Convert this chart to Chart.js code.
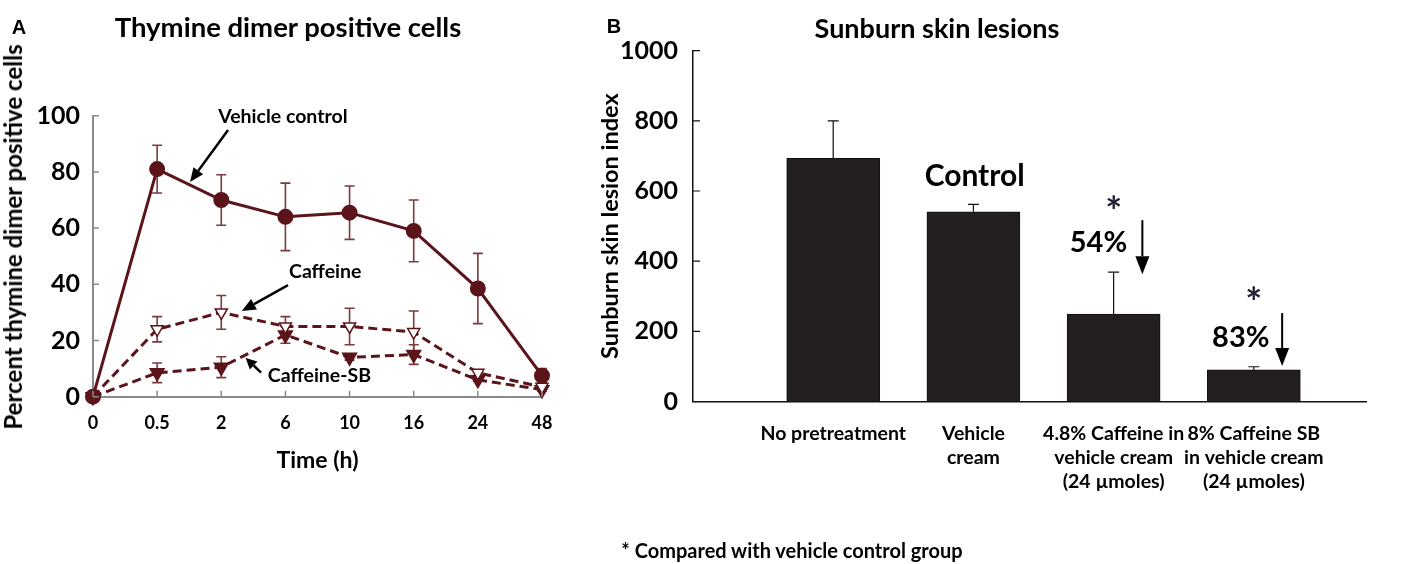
<!DOCTYPE html>
<html><head><meta charset="utf-8">
<script src="https://cdn.jsdelivr.net/npm/chart.js@4.4.0/dist/chart.umd.min.js"></script>
<style>
html,body{margin:0;padding:0;background:#fff;}
#wrap{position:relative;width:1405px;height:564px;overflow:hidden;font-family:Lato,"Open Sans",sans-serif;font-weight:bold;color:#000;}
canvas{position:absolute;top:0;}
.t{position:absolute;transform:translate(-50%,-50%);white-space:nowrap;line-height:1;}
.rot{transform:translate(-50%,-50%) rotate(-90deg);}
</style></head><body>
<div id="wrap">
<canvas id="cA" width="590" height="564" style="left:0;width:590px;height:564px"></canvas>
<canvas id="cB" width="815" height="564" style="left:590px;width:815px;height:564px"></canvas>
<div class="t" style="left:19px;top:27px;font:bold 20px 'Liberation Sans',Arial,sans-serif">A</div>
<div class="t" style="left:288px;top:27px;font-size:27.5px">Thymine dimer positive cells</div>
<div class="t rot" style="left:13px;top:237px;font-size:24px">Percent thymine dimer positive cells</div>
<div class="t" style="left:614px;top:26px;font:bold 20px 'Liberation Sans',Arial,sans-serif">B</div>
<div class="t" style="left:937px;top:27px;font-size:27px">Sunburn skin lesions</div>
<div class="t" style="left:792px;top:550px;font-size:20px">* Compared with vehicle control group</div>
</div>
<script>
// ---------- Panel A data ----------
const timeLabels = ['0', '0.5', '2', '6', '10', '16', '24', '48'];
const vehicleValues = [0, 81, 70, 64, 65.5, 59, 38.5, 7.5];
const vehicleErrors = [0, 8.5, 9, 12, 9.5, 11, 12.5, 2.5];
const caffeineValues = [0, 24, 30, 25, 25, 23, 8.5, 3.5];
const caffeineErrors = [0, 4.5, 6, 3.5, 6.5, 7.5, 1, 0.5];
const caffeineSBValues = [0, 8.5, 10.5, 22, 14, 15, 6, 2.5];
const caffeineSBErrors = [0, 3.5, 3.7, 3, 1, 3.5, 0.5, 0.5];
const yTicksA = [0, 20, 40, 60, 80, 100];

// ---------- Panel B data ----------
const groupLabels = [
  ['No pretreatment'],
  ['Vehicle', 'cream'],
  ['4.8% Caffeine in', 'vehicle cream', '(24 µmoles)'],
  ['8% Caffeine SB', 'in vehicle cream', '(24 µmoles)']
];
const lesionValues = [693, 541, 249, 90];
const lesionErrors = [107, 21, 120, 9];
const yTicksB = [0, 200, 400, 600, 800, 1000];

const FONT = 'Lato, "Open Sans", sans-serif';
const MAROON = '#5c141b';
const ERR = '#7a3a40';

// error bars drawn from dataset.errors through the y scale
const errorBars = {
  id: 'errorBars',
  draw(chart, opts) {
    const ctx = chart.ctx, ys = chart.scales.y;
    chart.data.datasets.forEach((ds, di) => {
      if (!ds.errors) return;
      const meta = chart.getDatasetMeta(di);
      ctx.save();
      ctx.strokeStyle = opts.color; ctx.lineWidth = opts.width;
      meta.data.forEach((el, i) => {
        const e = ds.errors[i];
        if (!e) return;
        const raw = ds.data[i];
        const v = (typeof raw === 'object') ? raw.y : raw;
        const x = el.x;
        const yt = ys.getPixelForValue(v + e);
        const yb = opts.upOnly ? ys.getPixelForValue(v) : ys.getPixelForValue(v - e);
        const c = opts.cap / 2;
        ctx.beginPath();
        ctx.moveTo(x, yt); ctx.lineTo(x, yb);
        ctx.moveTo(x - c, yt); ctx.lineTo(x + c, yt);
        if (!opts.upOnly) { ctx.moveTo(x - c, yb); ctx.lineTo(x + c, yb); }
        ctx.stroke();
      });
      ctx.restore();
    });
  },
  beforeDatasetsDraw(chart, args, opts) { if (!opts.front) this.draw(chart, opts); },
  afterDatasetsDraw(chart, args, opts) { if (opts.front) this.draw(chart, opts); }
};

// inward tick marks
const innerTicks = {
  id: 'innerTicks',
  afterDraw(chart, args, opts) {
    const ctx = chart.ctx, ca = chart.chartArea;
    ctx.save();
    ctx.strokeStyle = opts.color; ctx.lineWidth = opts.width;
    ctx.beginPath();
    if (opts.y) {
      const s = chart.scales.y;
      s.ticks.forEach((t, i) => { const p = s.getPixelForTick(i); ctx.moveTo(ca.left, p); ctx.lineTo(ca.left + opts.len, p); });
    }
    if (opts.x) {
      const s = chart.scales.x;
      s.ticks.forEach((t, i) => { const p = s.getPixelForTick(i); ctx.moveTo(p, ca.bottom); ctx.lineTo(p, ca.bottom - opts.len); });
    }
    ctx.stroke();
    ctx.restore();
  }
};

// text / arrow annotations anchored to the scales
const annotations = {
  id: 'annotations',
  afterDraw(chart, args, opts) {
    const ctx = chart.ctx, xs = chart.scales.x, ys = chart.scales.y;
    ctx.save();
    (opts.items || []).forEach(a => {
      if (a.text !== undefined) {
        ctx.font = 'bold ' + a.size + 'px ' + FONT;
        ctx.fillStyle = a.color || '#000';
        ctx.textAlign = 'center'; ctx.textBaseline = 'middle';
        ctx.fillText(a.text, xs.getPixelForValue(a.x), ys.getPixelForValue(a.y));
      } else {
        const x1 = xs.getPixelForValue(a.x1), y1 = ys.getPixelForValue(a.y1);
        const x2 = xs.getPixelForValue(a.x2), y2 = ys.getPixelForValue(a.y2);
        const ang = Math.atan2(y2 - y1, x2 - x1);
        const hl = a.head, hw = a.headW;
        const bx = x2 - Math.cos(ang) * hl, by = y2 - Math.sin(ang) * hl;
        ctx.strokeStyle = '#000'; ctx.fillStyle = '#000'; ctx.lineWidth = a.width;
        ctx.beginPath(); ctx.moveTo(x1, y1); ctx.lineTo(bx, by); ctx.stroke();
        ctx.beginPath();
        ctx.moveTo(x2, y2);
        ctx.lineTo(bx + Math.sin(ang) * hw, by - Math.cos(ang) * hw);
        ctx.lineTo(bx - Math.sin(ang) * hw, by + Math.cos(ang) * hw);
        ctx.closePath(); ctx.fill();
      }
    });
    ctx.restore();
  }
};

// ---------- Chart A ----------
new Chart(document.getElementById('cA'), {
  type: 'line',
  data: {
    labels: timeLabels,
    datasets: [
      { label: 'Vehicle control', data: vehicleValues, errors: vehicleErrors,
        borderColor: MAROON, backgroundColor: MAROON, borderWidth: 3,
        pointStyle: 'circle', pointRadius: 6.5, pointBackgroundColor: MAROON, pointBorderColor: MAROON,
        clip: false, tension: 0 },
      { label: 'Caffeine', data: caffeineValues, errors: caffeineErrors,
        borderColor: MAROON, backgroundColor: '#fff', borderWidth: 3, borderDash: [9, 5],
        pointStyle: 'triangle', pointRotation: 180, pointRadius: 7, pointBorderWidth: 1.5,
        pointBackgroundColor: '#fff', pointBorderColor: MAROON, clip: false, tension: 0 },
      { label: 'Caffeine-SB', data: caffeineSBValues, errors: caffeineSBErrors,
        borderColor: MAROON, backgroundColor: MAROON, borderWidth: 3, borderDash: [9, 5],
        pointStyle: 'triangle', pointRotation: 180, pointRadius: 6.5,
        pointBackgroundColor: MAROON, pointBorderColor: MAROON, clip: false, tension: 0 }
    ]
  },
  options: {
    responsive: false, animation: false, devicePixelRatio: 1,
    layout: { padding: { left: 0, top: 115.7, right: 48, bottom: 86 } },
    plugins: {
      legend: { display: false }, tooltip: { enabled: false },
      errorBars: { color: ERR, width: 1.6, cap: 10, upOnly: false, front: false },
      innerTicks: { color: '#8a8a8a', width: 1.5, len: 6, x: true, y: true },
      annotations: { items: [
        { text: 'Vehicle control', x: 2.96, y: 99.5, size: 19.5 },
        { x1: 2.106, y1: 94.9, x2: 1.513, y2: 76.4, width: 2.5, head: 14, headW: 6 },
        { text: 'Caffeine', x: 3.62, y: 44.4, size: 19.5 },
        { x1: 3.04, y1: 39.7, x2: 2.32, y2: 30.5, width: 2.5, head: 14, headW: 6 },
        { text: 'Caffeine-SB', x: 3.53, y: 7.4, size: 19.5 },
        { x1: 2.62, y1: 8.6, x2: 2.38, y2: 13.8, width: 2.5, head: 11, headW: 5.5 }
      ] }
    },
    scales: {
      x: {
        type: 'category', offset: false,
        grid: { display: false, drawTicks: false },
        border: { display: true, color: '#8a8a8a', width: 2 },
        ticks: { color: '#000', font: { family: FONT, size: 18, weight: 'bold' }, padding: 16, autoSkip: false, maxRotation: 0 },
        title: { display: true, text: 'Time (h)', color: '#000', font: { family: FONT, size: 23, weight: 'bold' }, padding: { top: 0, bottom: 4 } },
        afterFit(s) { s.height = 81.3; }
      },
      y: {
        min: 0, max: 100,
        afterBuildTicks(s) { s.ticks = yTicksA.map(v => ({ value: v })); },
        grid: { display: false, drawTicks: false },
        border: { display: true, color: '#8a8a8a', width: 2 },
        ticks: { color: '#000', font: { family: FONT, size: 25, weight: 'bold' }, padding: 13 },
        afterFit(s) { s.width = 93; }
      }
    }
  },
  plugins: [errorBars, innerTicks, annotations]
});

// ---------- Chart B ----------
new Chart(document.getElementById('cB'), {
  type: 'bar',
  data: {
    datasets: [{
      label: 'Sunburn skin lesion index',
      data: lesionValues.map((v, i) => ({ x: i + 1, y: v })),
      errors: lesionErrors,
      backgroundColor: '#231f20', borderColor: '#111', borderWidth: 1, barThickness: 93
    }]
  },
  options: {
    responsive: false, animation: false, devicePixelRatio: 1,
    layout: { padding: { left: 0, top: 50.7, right: 39, bottom: 0 } },
    plugins: {
      legend: { display: false }, tooltip: { enabled: false },
      errorBars: { color: '#111', width: 1.2, cap: 11, upOnly: true, front: true },
      innerTicks: { color: '#111', width: 1.2, len: 7, x: false, y: true },
      annotations: { items: [
        { text: 'Control', x: 2.009, y: 643, size: 30 },
        { text: '*', x: 3, y: 536, size: 40, color: '#1f2230' },
        { text: '54%', x: 2.892, y: 452, size: 29 },
        { x1: 3.205, y1: 517, x2: 3.205, y2: 363, width: 2, head: 18, headW: 7 },
        { text: '*', x: 4, y: 279, size: 40, color: '#1f2230' },
        { text: '83%', x: 3.907, y: 181, size: 29 },
        { x1: 4.202, y1: 252, x2: 4.202, y2: 101, width: 2, head: 18, headW: 7 }
      ] }
    },
    scales: {
      x: {
        type: 'linear', min: 0, max: 4.8, offset: false,
        afterBuildTicks(s) { s.ticks = groupLabels.map((l, i) => ({ value: i + 1 })); },
        grid: { display: false, drawTicks: false, offset: false },
        border: { display: true, color: '#111', width: 1.5 },
        ticks: { color: '#000', font: { family: FONT, size: 19.5, weight: 'bold', lineHeight: 1.23 }, padding: 20,
                 autoSkip: false, maxRotation: 0, callback: v => groupLabels[v - 1] || '' },
        afterFit(s) { s.height = 162.5; }
      },
      y: {
        min: 0, max: 1000,
        afterBuildTicks(s) { s.ticks = yTicksB.map(v => ({ value: v })); },
        grid: { display: false, drawTicks: false },
        border: { display: true, color: '#111', width: 1.5 },
        ticks: { color: '#000', font: { family: FONT, size: 25, weight: 'bold' }, padding: 15, callback: v => String(v) },
        title: { display: true, text: 'Sunburn skin lesion index', color: '#000', font: { family: FONT, size: 23.5, weight: 'bold' }, padding: { top: 6, bottom: 0 } },
        afterFit(s) { s.width = 103; }
      }
    }
  },
  plugins: [errorBars, innerTicks, annotations]
});
</script>
</body></html>
